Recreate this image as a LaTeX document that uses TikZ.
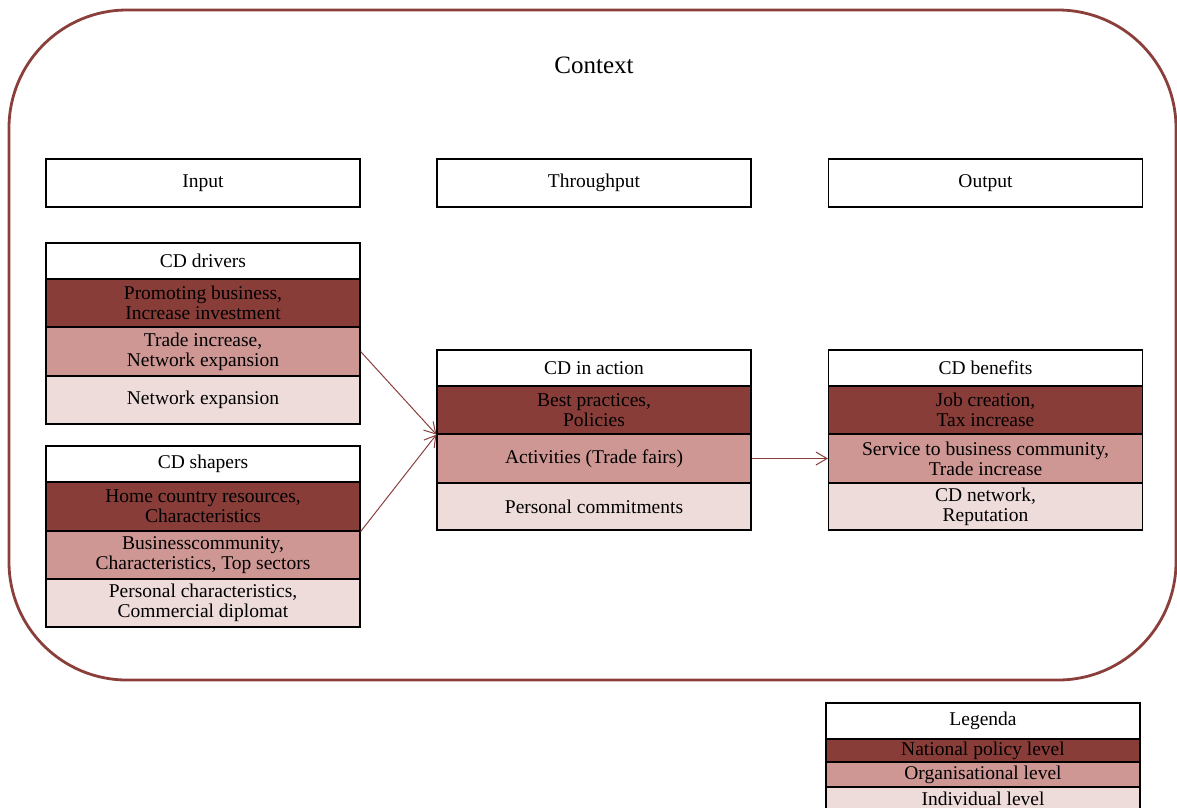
\documentclass[tikz,border=0pt]{standalone}
\usepackage{fontspec}
\setmainfont{Liberation Serif}
\usepackage{xcolor}
\usepackage{tikz}
\usetikzlibrary{arrows.meta}
\definecolor{cdframe}{HTML}{8A3F3B}
\definecolor{cddark}{HTML}{893D39}
\definecolor{cdmid}{HTML}{CF9794}
\definecolor{cdlight}{HTML}{EEDCDB}

\begin{document}
\begin{tikzpicture}[
  x=1pt,y=-1pt,
  font=\fontsize{19.5}{20}\selectfont,
  cell/.style={draw=black,line width=1.2pt,minimum width=314pt,inner sep=0pt,align=center},
  head/.style={cell,fill=white,minimum height=36pt},
  natl/.style={cell,fill=cddark,minimum height=48pt},
  orgl/.style={cell,fill=cdmid,minimum height=48pt},
  indl/.style={cell,fill=cdlight,minimum height=48pt},
  arr/.style={-{Straight Barb[length=11pt,width=13pt]},draw=cdframe,line width=1pt}
]
\useasboundingbox (0,0) rectangle (1177,807);
\draw[cdframe,line width=2.8pt,rounded corners=118pt] (9,10) rectangle (1176,680);
\node[font=\fontsize{25}{28}\selectfont] (ctx) at (594,65) {Context};

\node[head,minimum height=48pt] (inp) at (203,183) {Input};
\node[head,minimum height=48pt] (thr) at (594,183) {Throughput};
\node[head,minimum height=48pt] (out) at (985.5,183) {Output};

\node[head] (drv) at (203,261) {CD drivers};
\node[natl] (drvA) at (203,303) {Promoting business,\\Increase investment};
\node[orgl,minimum height=49pt] (drvB) at (203,351.5) {Trade increase,\\Network expansion};
\node[indl] (drvC) at (203,400) {Network expansion};

\node[head] (shp) at (203,464) {CD shapers};
\node[natl,minimum height=49pt] (shpA) at (203,506.5) {Home country resources,\\Characteristics};
\node[orgl] (shpB) at (203,555) {Businesscommunity,\\Characteristics, Top sectors};
\node[indl] (shpC) at (203,603) {Personal characteristics,\\Commercial diplomat};

\node[head] (act) at (594,368) {CD in action};
\node[natl] (actA) at (594,410) {Best practices,\\Policies};
\node[orgl,minimum height=49pt] (actB) at (594,458.5) {Activities (Trade fairs)};
\node[indl,minimum height=47pt] (actC) at (594,506.5) {Personal commitments};

\node[head] (ben) at (985.5,368) {CD benefits};
\node[natl] (benA) at (985.5,410) {Job creation,\\Tax increase};
\node[orgl,minimum height=49pt] (benB) at (985.5,458.5) {Service to business community,\\Trade increase};
\node[indl,minimum height=47pt] (benC) at (985.5,506.5) {CD network,\\Reputation};

\node[head] (leg) at (983,721) {Legenda};
\node[natl,minimum height=23pt] (legA) at (983,750.5) {National policy level};
\node[orgl,minimum height=25pt] (legB) at (983,774.5) {Organisational level};
\node[indl,minimum height=24pt] (legC) at (983,799) {Individual level};

\draw[arr] (drvB.east) -- (actA.south west);
\draw[arr] (shpA.south east) -- (actA.south west);
\draw[arr] (actB.east) -- (benB.west);
\end{tikzpicture}
\end{document}
